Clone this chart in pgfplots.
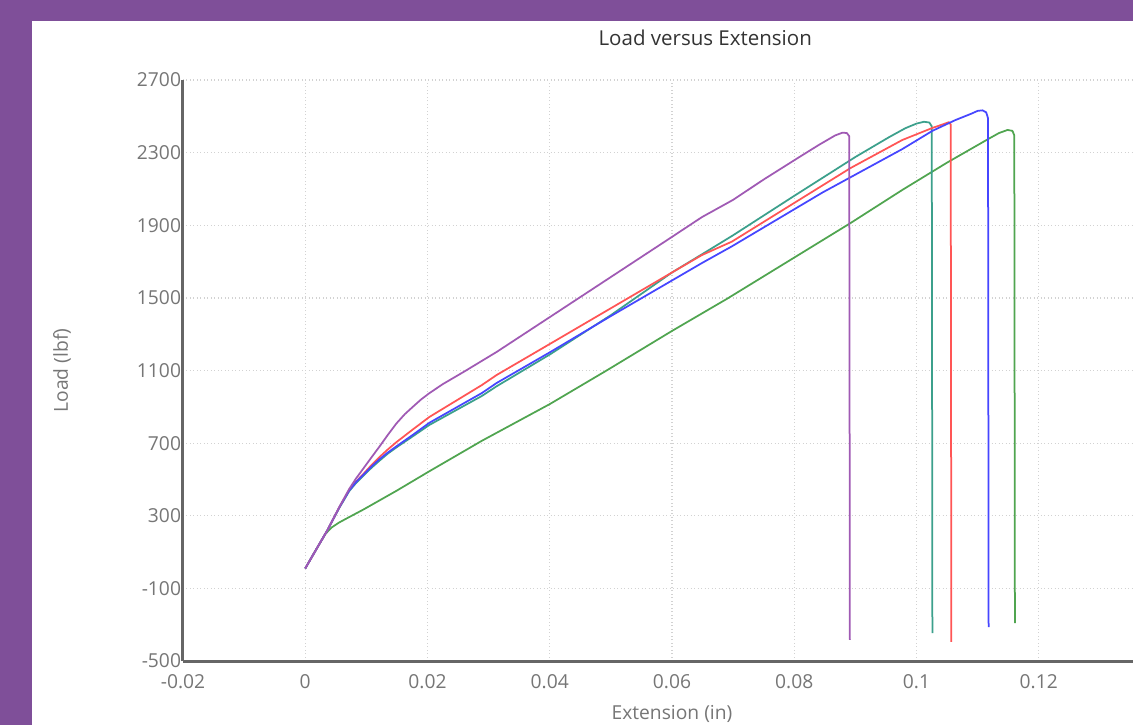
\documentclass[border=0pt]{standalone}
\usepackage{fontspec}
\setmainfont{Open Sans}
\usepackage{pgfplots}
\pgfplotsset{compat=1.18}
\definecolor{bgpurple}{RGB}{127,79,153}
\definecolor{cP}{RGB}{160,90,180}
\definecolor{cT}{RGB}{60,160,140}
\definecolor{cR}{RGB}{255,85,85}
\definecolor{cB}{RGB}{70,70,255}
\definecolor{cG}{RGB}{80,165,80}
\definecolor{axgray}{RGB}{102,102,102}
\definecolor{txtgray}{RGB}{118,118,118}
\definecolor{gridgray}{RGB}{210,210,210}
\begin{document}
\begin{tikzpicture}[x=1pt,y=1pt]
\useasboundingbox (0,0) rectangle (453.2,-290);
\clip (0,0) rectangle (453.2,-290);
\fill[bgpurple] (0,0) rectangle (453.2,-290);
\fill[white] (12.8,-8.4) rectangle (453.2,-290);
\begin{axis}[
  at={(73.2pt,-264.4pt)}, anchor=south west,
  scale only axis, width=391.2pt, height=232.4pt,
  xmin=-0.02, xmax=0.14, ymin=-500, ymax=2700,
  axis x line*=bottom, axis y line*=left,
  axis line style={axgray, line width=1.2pt},
  xtick={-0.02,0,0.02,0.04,0.06,0.08,0.1,0.12,0.14},
  xticklabels={-0.02,0,0.02,0.04,0.06,0.08,0.1,0.12,0.14},
  ytick={-500,-100,300,700,1100,1500,1900,2300,2700},
  yticklabels={-500,-100,300,700,1100,1500,1900,2300,2700},
  major tick length=0pt,
  tick label style={font=\fontsize{7.7}{9}\selectfont, text=txtgray},
  xticklabel style={anchor=north, inner sep=0pt, yshift=-5.4pt},
  yticklabel style={anchor=east, inner sep=0pt, xshift=-0.6pt},
  grid=major,
  major grid style={gridgray, densely dotted, line width=0.5pt},
  xlabel={Extension (in)}, ylabel={Load (lbf)},
  every axis x label/.style={at={(axis description cs:0.5,-0.091)}, anchor=center, font=\fontsize{7.7}{9}\selectfont, text=txtgray},
  every axis y label/.style={at={(axis description cs:-0.1237,0.5)}, anchor=center, rotate=90, font=\fontsize{7.7}{9}\selectfont, text=txtgray},
  title={Load versus Extension},
  every axis title/.style={at={(axis description cs:0.534,1.0723)}, anchor=center, font=\fontsize{8.2}{10}\selectfont, text=black!80},
  every axis plot/.append style={line width=0.7pt, mark=none, line join=round},
  clip=false,
]
\addplot[cG] coordinates {(0,10) (0.0018,115) (0.0033,200) (0.0043,235) (0.0055,262) (0.0067,284) (0.0095,334) (0.0149,437) (0.0203,545) (0.0289,713) (0.04,915) (0.0493,1100) (0.06,1318) (0.069,1495) (0.0892,1912) (0.0977,2095) (0.105,2245) (0.112,2380) (0.1135,2408) (0.1149,2425) (0.1157,2420) (0.1160,2395) (0.1161,-291)};
\addplot[cT] coordinates {(0,10) (0.0018,115) (0.0036,219) (0.0056,345) (0.0072,436) (0.0083,480) (0.0095,520) (0.0108,563) (0.0121,602) (0.0135,642) (0.0149,676) (0.0177,740) (0.0203,800) (0.0289,960) (0.0313,1013) (0.04,1188) (0.05,1405) (0.06,1640) (0.0649,1740) (0.07,1845) (0.08,2062) (0.09,2276) (0.0955,2385) (0.0982,2435) (0.1000,2460) (0.1012,2470) (0.1021,2466) (0.1025,2445) (0.1026,-346)};
\addplot[cR] coordinates {(0,10) (0.0018,115) (0.0036,219) (0.0056,348) (0.0072,442) (0.0083,488) (0.0095,530) (0.0108,578) (0.0121,622) (0.0135,665) (0.0149,705) (0.0177,778) (0.0203,844) (0.0289,1020) (0.0313,1075) (0.04,1246) (0.05,1443) (0.06,1640) (0.0649,1736) (0.0698,1810) (0.0892,2215) (0.0977,2370) (0.1026,2436) (0.1045,2458) (0.1053,2468) (0.1056,2455) (0.1057,-395)};
\addplot[cB] coordinates {(0,10) (0.0018,115) (0.0036,219) (0.0056,348) (0.0072,440) (0.0083,485) (0.0095,525) (0.0108,570) (0.0121,610) (0.0135,648) (0.0149,682) (0.0177,748) (0.0203,812) (0.0289,976) (0.0313,1031) (0.04,1200) (0.05,1400) (0.0649,1692) (0.0698,1784) (0.0846,2080) (0.0977,2320) (0.1026,2420) (0.1064,2480) (0.109,2515) (0.1100,2530) (0.1108,2533) (0.1114,2522) (0.1117,2490) (0.1118,-313)};
\addplot[cP] coordinates {(0,10) (0.0018,115) (0.0036,219) (0.0056,350) (0.0072,448) (0.0083,505) (0.0095,560) (0.0108,620) (0.0121,679) (0.0135,745) (0.0149,808) (0.0163,860) (0.0177,903) (0.019,942) (0.0203,975) (0.0225,1025) (0.0259,1092) (0.0313,1202) (0.04,1394) (0.05,1615) (0.06,1836) (0.0649,1945) (0.07,2040) (0.075,2152) (0.0808,2275) (0.084,2342) (0.0867,2395) (0.0879,2410) (0.0886,2408) (0.0890,2390) (0.0891,-384)};
\end{axis}
\end{tikzpicture}
\end{document}
